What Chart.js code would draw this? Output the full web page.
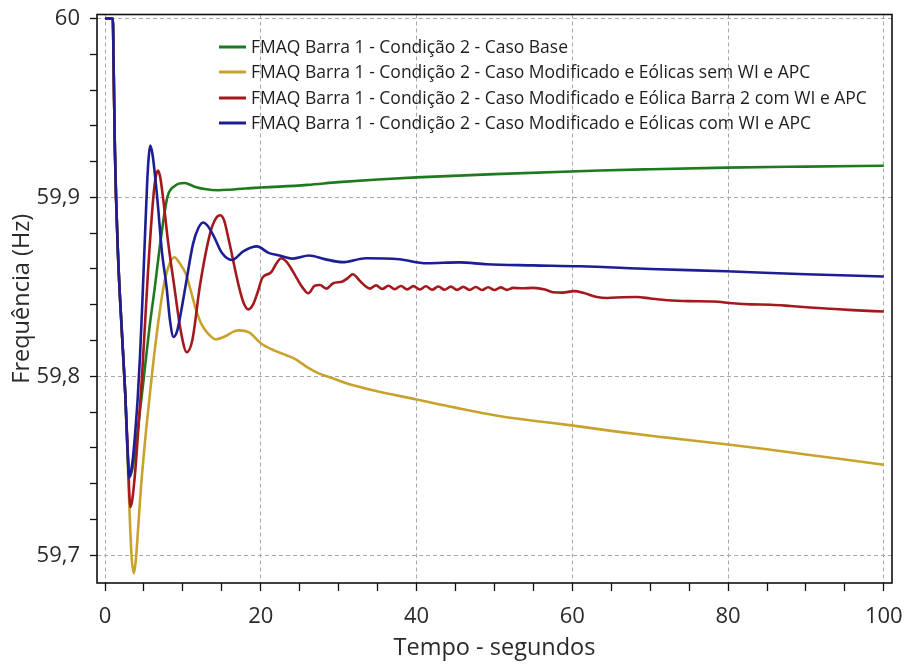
<!DOCTYPE html>
<html>
<head>
<meta charset="utf-8">
<script src="https://cdn.jsdelivr.net/npm/chart.js@4.4.1/dist/chart.umd.min.js"></script>
<style>
  html, body { margin: 0; padding: 0; background: #ffffff; }
  #wrap { width: 905px; height: 666px; position: relative; }
</style>
</head>
<body>
<div id="wrap"><canvas id="grafico" width="905" height="666"></canvas></div>
<script>
// Nomes das séries (legenda)
const nomesSeries = [
  'FMAQ Barra 1 - Condição 2 - Caso Base',
  'FMAQ Barra 1 - Condição 2 - Caso Modificado e Eólicas sem WI e APC',
  'FMAQ Barra 1 - Condição 2 - Caso Modificado e Eólica Barra 2 com WI e APC',
  'FMAQ Barra 1 - Condição 2 - Caso Modificado e Eólicas com WI e APC'
];

// Caso Base
const tempoBase = [0, 1, 1.1, 1.27, 1.65, 2.2, 2.6, 2.9, 3.15, 3.6, 4.2, 5.0, 5.7, 6.4, 7.2, 8.0, 9.0, 10.2, 11.5, 13, 14.5, 16, 18, 20, 22.4, 26, 30, 35, 40, 50, 63.5, 70, 79.8, 90, 100];
const freqBase  = [60, 60, 59.975, 59.926, 59.87, 59.822, 59.79, 59.758, 59.744, 59.75, 59.77, 59.80, 59.827, 59.85, 59.878, 59.90, 59.9065, 59.908, 59.906, 59.9045, 59.904, 59.9043, 59.905, 59.9055, 59.906, 59.907, 59.9085, 59.910, 59.9112, 59.913, 59.915, 59.9157, 59.9166, 59.9172, 59.9177];

// Caso Modificado e Eólicas sem WI e APC
const tempoSemWI = [0, 1, 1.1, 1.27, 1.65, 2.2, 2.6, 2.85, 3.1, 3.4, 3.7, 3.95, 4.25, 4.6, 5.3, 6.0, 6.8, 7.6, 8.3, 8.9, 9.6, 10.4, 11.0, 11.7, 12.4, 13.2, 14.2, 15.5, 16.5, 17.2, 18.5, 20, 21.7, 23.3, 24.5, 26, 27.5, 29.2, 30.7, 34.4, 40, 45, 50.4, 55, 59.9, 65, 71.6, 79.7, 85, 90, 95, 100];
const freqSemWI  = [60, 60, 59.975, 59.926, 59.87, 59.822, 59.79, 59.76, 59.73, 59.70, 59.690, 59.697, 59.715, 59.737, 59.771, 59.80, 59.829, 59.852, 59.863, 59.8665, 59.863, 59.857, 59.848, 59.837, 59.829, 59.824, 59.8207, 59.8225, 59.825, 59.8257, 59.8245, 59.8185, 59.8145, 59.8118, 59.8095, 59.805, 59.8015, 59.799, 59.7966, 59.7922, 59.7871, 59.7825, 59.778, 59.7752, 59.7726, 59.7695, 59.766, 59.762, 59.7592, 59.7563, 59.7535, 59.7506];

// Caso Modificado e Eólica Barra 2 com WI e APC
const tempoBarra2 = [0, 1, 1.1, 1.27, 1.65, 2.2, 2.6, 2.9, 3.25, 3.5, 3.9, 4.3, 4.75, 5.5, 6.2, 6.5, 6.8, 7.1, 7.5, 8.1, 8.9, 9.7, 10.5, 11.2, 12.2, 13.5, 14.2, 14.8, 15.3, 15.9, 17.2, 17.8, 18.4, 19.0, 19.6, 20.2, 21.3, 22.0, 22.6, 23.2, 23.8, 24.6, 25.3, 26.1, 26.9, 27.6, 28.4, 29.3, 30.5, 31.2, 31.8, 32.8, 33.4,
  34.0, 34.8, 35.6, 36.4, 37.2, 38.0, 38.8, 39.6, 40.4, 41.2, 42.0, 42.8, 43.6, 44.4, 45.2, 46.0, 46.8, 47.6, 48.4, 49.2, 50.0, 50.8, 51.6, 52.4,
  53.5, 55, 56.5, 57.5, 58.8, 60.2, 61.5, 63, 64.5, 66.5, 68.3, 70, 72.2, 75, 78.1, 80.6, 83, 85.5, 88, 90.5, 93, 96, 100];
const freqBarra2  = [60, 60, 59.975, 59.926, 59.87, 59.822, 59.79, 59.76, 59.727, 59.731, 59.748, 59.772, 59.80, 59.857, 59.90, 59.911, 59.915, 59.911, 59.898, 59.875, 59.85, 59.826, 59.8135, 59.82, 59.851, 59.880, 59.888, 59.890, 59.887, 59.876, 59.85, 59.841, 59.8374, 59.840, 59.847, 59.855, 59.858, 59.863, 59.866, 59.8645, 59.861, 59.855, 59.850, 59.8464, 59.8505, 59.851, 59.849, 59.852, 59.853, 59.855, 59.857, 59.853, 59.8505,
  59.8490, 59.8508, 59.8488, 59.8506, 59.8487, 59.8505, 59.8486, 59.8504, 59.8485, 59.8503, 59.8484, 59.8502, 59.8484, 59.8501, 59.8483, 59.8500, 59.8483, 59.8499, 59.8482, 59.8498, 59.8482, 59.8497, 59.8483, 59.8494,
  59.8492, 59.8494, 59.8485, 59.847, 59.8468, 59.8476, 59.8465, 59.8445, 59.8438, 59.8442, 59.8443, 59.8435, 59.8425, 59.842, 59.8418, 59.8408, 59.8402, 59.840, 59.8393, 59.8385, 59.8378, 59.837, 59.8362];

// Caso Modificado e Eólicas com WI e APC
const tempoComWI = [0, 1, 1.1, 1.27, 1.65, 2.2, 2.6, 2.9, 3.08, 3.3, 3.6, 3.9, 4.2, 4.5, 4.8, 5.1, 5.4, 5.6, 5.8, 6.1, 6.7, 7.3, 7.9, 8.35, 8.8, 9.3, 9.8, 10.4, 11.3, 12.0, 12.6, 13.2, 14.0, 15.0, 16.3, 17.8, 19.5, 21, 22.4, 24.1, 26.2, 28.2, 30.5, 33.5, 37.8, 41.3, 45.5, 49, 55, 61, 70, 79.8, 90, 100];
const freqComWI  = [60, 60, 59.975, 59.926, 59.87, 59.822, 59.79, 59.758, 59.7435, 59.746, 59.755, 59.770, 59.788, 59.812, 59.842, 59.875, 59.907, 59.922, 59.929, 59.924, 59.90, 59.87, 59.85, 59.831, 59.822, 59.826, 59.837, 59.852, 59.874, 59.883, 59.886, 59.884, 59.878, 59.869, 59.865, 59.870, 59.8726, 59.869, 59.8675, 59.8658, 59.8675, 59.8655, 59.8638, 59.866, 59.8654, 59.8632, 59.8637, 59.8626, 59.862, 59.8615, 59.860, 59.8587, 59.857, 59.8558];

const coresSeries = ['#1f7a1f', '#c9a22e', '#a3191d', '#1d1d96'];

// Marcas dos eixos
const xTicksMaiores = [0, 20, 40, 60, 80, 100];
const xTicksMenores = [0, 5, 10, 15, 20, 25, 30, 35, 40, 45, 50, 55, 60, 65, 70, 75, 80, 85, 90, 95, 100];
const yTicksMaiores = [59.7, 59.8, 59.9, 60];
const yRotulos = ['59,7', '59,8', '59,9', '60'];
const yTicksMenores = [59.70, 59.72, 59.74, 59.76, 59.78, 59.80, 59.82, 59.84, 59.86, 59.88, 59.90, 59.92, 59.94, 59.96, 59.98, 60.00];

const FONTE = "'Open Sans', 'Noto Sans', sans-serif";
const perto = (a, b) => Math.abs(a - b) < 1e-9;
const pares = (ts, fs) => ts.map((t, i) => ({ x: t, y: fs[i] }));

// Legenda desenhada dentro da área do gráfico
const legendaInterna = {
  id: 'legendaInterna',
  afterDraw(chart) {
    const ctx = chart.ctx;
    const linhasY = [47, 72, 98, 123];
    ctx.save();
    ctx.font = "17.5px " + FONTE;
    ctx.textBaseline = 'middle';
    ctx.textAlign = 'left';
    chart.data.datasets.forEach((ds, i) => {
      const y = linhasY[i];
      ctx.strokeStyle = ds.borderColor;
      ctx.lineWidth = 3;
      ctx.beginPath();
      ctx.moveTo(219, y);
      ctx.lineTo(246, y);
      ctx.stroke();
      ctx.fillStyle = '#1e1e1e';
      ctx.fillText(ds.label, 251, y + 1);
    });
    ctx.restore();
  }
};

// Moldura preta em volta da área de plotagem
const moldura = {
  id: 'moldura',
  afterDatasetsDraw(chart) {
    const { ctx, chartArea: a } = chart;
    ctx.save();
    ctx.strokeStyle = '#111';
    ctx.lineWidth = 1.6;
    ctx.strokeRect(a.left, a.top, a.right - a.left, a.bottom - a.top);
    ctx.restore();
  }
};

const datasets = [
  { label: nomesSeries[0], data: pares(tempoBase, freqBase), borderColor: coresSeries[0], order: 4 },
  { label: nomesSeries[1], data: pares(tempoSemWI, freqSemWI), borderColor: coresSeries[1], order: 3 },
  { label: nomesSeries[2], data: pares(tempoBarra2, freqBarra2), borderColor: coresSeries[2], order: 2 },
  { label: nomesSeries[3], data: pares(tempoComWI, freqComWI), borderColor: coresSeries[3], order: 1 }
];

new Chart(document.getElementById('grafico'), {
  type: 'line',
  data: { datasets },
  plugins: [legendaInterna, moldura],
  options: {
    responsive: false,
    animation: false,
    devicePixelRatio: 1,
    layout: { padding: { left: 0, right: 13, top: 14.5, bottom: 0 } },
    elements: {
      point: { radius: 0 },
      line: { borderWidth: 2.6, cubicInterpolationMode: 'monotone', fill: false }
    },
    plugins: { legend: { display: false }, tooltip: { enabled: false } },
    scales: {
      x: {
        type: 'linear',
        min: -1.03,
        max: 101.05,
        afterBuildTicks: (ax) => { ax.ticks = xTicksMenores.map(v => ({ value: v })); },
        afterFit: (ax) => { ax.height = 83; ax.paddingLeft = 0; ax.paddingRight = 0; },
        ticks: {
          autoSkip: false, maxRotation: 0, minRotation: 0, padding: 13,
          color: '#2a2a2a', font: { family: FONTE, size: 22 },
          callback: (v) => xTicksMaiores.some(m => perto(m, v)) ? String(v) : ''
        },
        grid: {
          color: (c) => (c.tick && xTicksMaiores.some(m => perto(m, c.tick.value))) ? '#a8a8a8' : 'rgba(0,0,0,0)',
          lineWidth: 1,
          tickColor: '#111', tickLength: 8, tickWidth: 1.3
        },
        border: { display: false, dash: [4, 3] },
        title: { display: true, text: 'Tempo - segundos', color: '#2a2a2a', font: { family: FONTE, size: 23.5 }, padding: { top: 0, bottom: 4 } }
      },
      y: {
        type: 'linear',
        min: 59.6845,
        max: 60.0022,
        afterBuildTicks: (ax) => { ax.ticks = yTicksMenores.map(v => ({ value: v })); },
        afterFit: (ax) => { ax.width = 97; ax.paddingTop = 0; ax.paddingBottom = 0; },
        ticks: {
          autoSkip: false, padding: 10,
          color: '#2a2a2a', font: { family: FONTE, size: 22 },
          callback: (v) => { const k = yTicksMaiores.findIndex(m => perto(m, v)); return k >= 0 ? yRotulos[k] : ''; }
        },
        grid: {
          color: (c) => (c.tick && yTicksMaiores.some(m => perto(m, c.tick.value))) ? '#a8a8a8' : 'rgba(0,0,0,0)',
          lineWidth: 1,
          tickColor: '#111', tickLength: 7, tickWidth: 1.3
        },
        border: { display: false, dash: [4, 3] },
        title: { display: true, text: 'Frequência (Hz)', color: '#2a2a2a', font: { family: FONTE, size: 23.5 }, padding: { top: 8, bottom: 0 } }
      }
    }
  }
});
</script>
</body>
</html>
